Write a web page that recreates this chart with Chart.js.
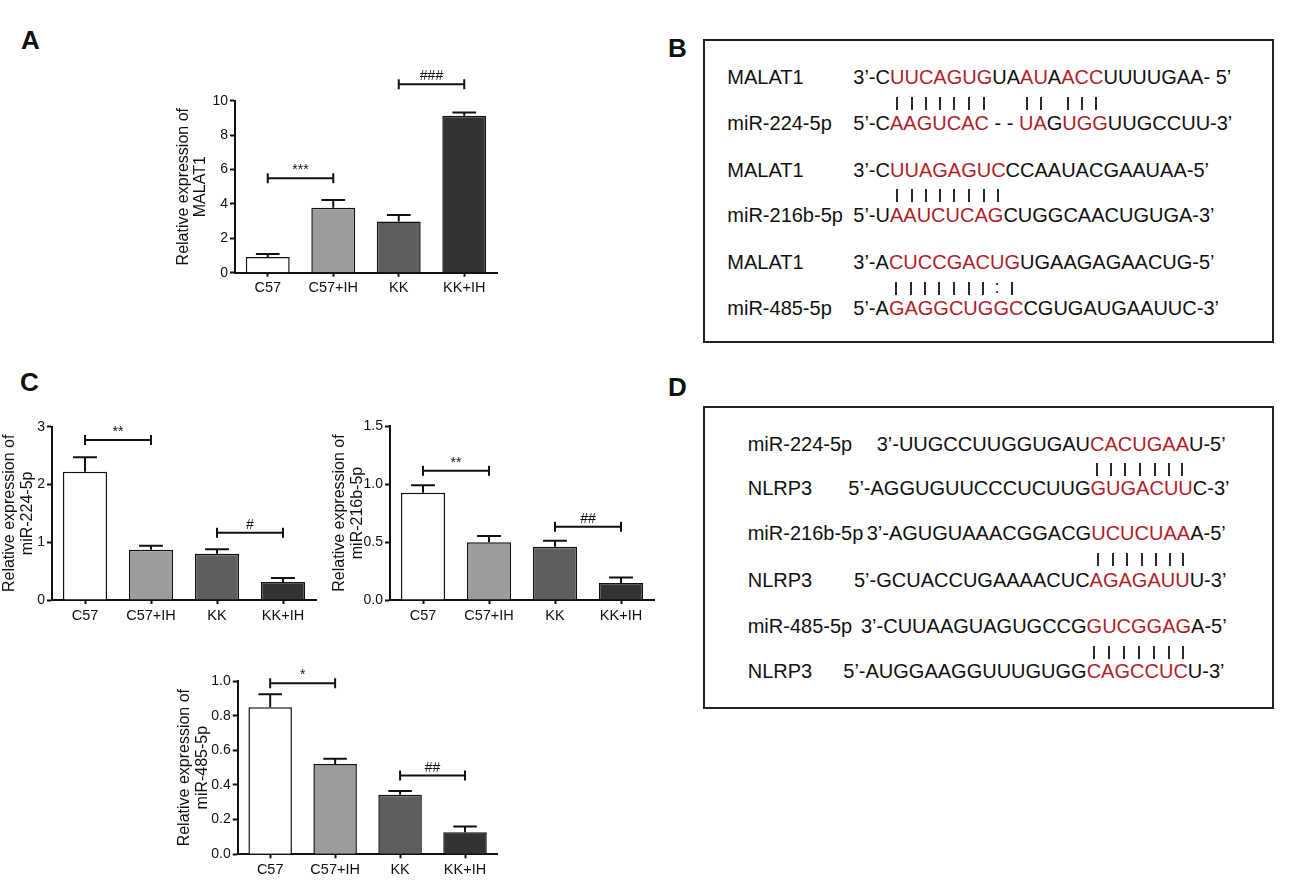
<!DOCTYPE html>
<html lang="en">
<head>
<meta charset="UTF-8">
<title>MALAT1 / miRNA expression and binding sites</title>
<script src="https://cdn.jsdelivr.net/npm/chart.js"></script>
<style>
    body {
        margin: 0;
        width: 1300px;
        height: 886px;
        position: relative;
        background: #fff;
        font-family: "Liberation Sans", Arial, sans-serif;
        color: #111;
        overflow: hidden;
    }
    canvas { position: absolute; }
    .panel-label {
        position: absolute;
        font-weight: bold;
        font-size: 26px;
        line-height: 26px;
    }
    .seq-box {
        position: absolute;
        border: 2px solid #222;
        box-sizing: border-box;
    }
    .txt {
        position: absolute;
        font-size: 20px;
        line-height: 20px;
        white-space: pre;
    }
    .red { color: #b01f2b; }
    .mark {
        position: absolute;
        width: 2px;
        height: 13px;
        background: #2a2a2a;
    }
    .colon {
        position: absolute;
        font-size: 18px;
        line-height: 13px;
        transform: translateX(-50%);
    }
</style>
</head>
<body>

<div class="panel-label" style="left:21px; top:27px;">A</div>
<div class="panel-label" style="left:668px; top:35px;">B</div>
<div class="panel-label" style="left:20px; top:369px;">C</div>
<div class="panel-label" style="left:668px; top:374px;">D</div>

<canvas id="chartA" width="360" height="250" style="left:150px; top:55px;"></canvas>
<canvas id="chartC1" width="330" height="232" style="left:0px; top:400px;"></canvas>
<canvas id="chartC2" width="340" height="232" style="left:330px; top:400px;"></canvas>
<canvas id="chartC3" width="350" height="231" style="left:160px; top:655px;"></canvas>

<div class="seq-box" id="boxB" style="left:703px; top:39px; width:571px; height:304px;"></div>
<div class="seq-box" id="boxD" style="left:703px; top:406px; width:571px; height:303px;"></div>

<script>
    // ---- bar chart data ----
    const groups = ['C57', 'C57+IH', 'KK', 'KK+IH'];
    const barColors = ['#ffffff', '#9c9c9c', '#5e5e5e', '#333333'];

    const malat1Mean = [0.92, 3.78, 2.97, 9.13];
    const malat1Err = [0.16, 0.44, 0.38, 0.19];
    const malat1Sig = [[0, 1, 5.49, '***'], [2, 3, 10.95, '###']];

    const mir224Mean = [2.22, 0.87, 0.80, 0.31];
    const mir224Err = [0.25, 0.07, 0.08, 0.07];
    const mir224Sig = [[0, 1, 2.77, '**'], [2, 3, 1.166, '#']];

    const mir216Mean = [0.925, 0.497, 0.46, 0.147];
    const mir216Err = [0.065, 0.055, 0.05, 0.046];
    const mir216Sig = [[0, 1, 1.115, '**'], [2, 3, 0.632, '##']];

    const mir485Mean = [0.848, 0.521, 0.344, 0.127];
    const mir485Err = [0.075, 0.031, 0.021, 0.033];
    const mir485Sig = [[0, 1, 0.987, '*'], [2, 3, 0.454, '##']];

    // ---- binding site text ----
    // [..] marks the paired (red) bases
    const labelsB = ['MALAT1', 'miR-224-5p', 'MALAT1', 'miR-216b-5p', 'MALAT1', 'miR-485-5p'];
    const seqsB = [
        '3’-C[UUCAGUG]UA[AU]A[ACC]UUUUGAA- 5’',
        '5’-C[AAGUCAC] - - [UA]G[UGG]UUGCCUU-3’',
        '3’-C[UUAGAGUC]CCAAUACGAAUAA-5’',
        '5’-U[AAUCUCAG]CUGGCAACUGUGA-3’',
        '3’-A[CUCCGACUG]UGAAGAGAACUG-5’',
        '5’-A[GAGGCUGGC]CGUGAUGAAUUC-3’'
    ];
    const pairsB = ['||||||||||||', '||||||||', '|||||||:|'];

    const labelsD = ['miR-224-5p', 'NLRP3', 'miR-216b-5p', 'NLRP3', 'miR-485-5p', 'NLRP3'];
    const seqsD = [
        '3’-UUGCCUUGGUGAU[CACUGAA]U-5’',
        '5’-AGGUGUUCCCUCUUG[GUGACUU]C-3’',
        '3’-AGUGUAAACGGACG[UCUCUAA]A-5’',
        '5’-GCUACCUGAAAACUC[AGAGAUU]U-3’',
        '3’-CUUAAGUAGUGCCG[GUCGGAG]A-5’',
        '5’-AUGGAAGGUUUGUGG[CAGCCUC]U-3’'
    ];
    const pairsD = ['|||||||', '|||||||', '|||||||'];

    const FONT = '"Liberation Sans", Arial, sans-serif';

    // error bars + significance brackets
    const annotatePlugin = {
        id: 'annotate',
        afterDatasetsDraw(chart, args, opts) {
            const ctx = chart.ctx;
            const meta = chart.getDatasetMeta(0);
            const xs = chart.scales.x;
            const ys = chart.scales.y;
            const data = chart.data.datasets[0].data;
            ctx.save();
            ctx.strokeStyle = '#111';
            ctx.lineWidth = 2;
            meta.data.forEach((bar, i) => {
                const base = ys.getPixelForValue(data[i]);
                const top = ys.getPixelForValue(data[i] + opts.err[i]);
                const half = bar.width * 0.27;
                ctx.beginPath();
                ctx.moveTo(bar.x, base);
                ctx.lineTo(bar.x, top);
                ctx.moveTo(bar.x - half, top);
                ctx.lineTo(bar.x + half, top);
                ctx.stroke();
            });
            ctx.fillStyle = '#111';
            ctx.font = '14px ' + FONT;
            ctx.textAlign = 'center';
            ctx.textBaseline = 'alphabetic';
            opts.sig.forEach(([a, b, v, label]) => {
                const x1 = xs.getPixelForValue(a);
                const x2 = xs.getPixelForValue(b);
                const y = ys.getPixelForValue(v);
                ctx.beginPath();
                ctx.moveTo(x1, y);
                ctx.lineTo(x2, y);
                ctx.moveTo(x1, y - 5);
                ctx.lineTo(x1, y + 5);
                ctx.moveTo(x2, y - 5);
                ctx.lineTo(x2, y + 5);
                ctx.stroke();
                ctx.fillText(label, (x1 + x2) / 2, y - 4);
            });
            ctx.restore();
        }
    };

    // box: canvas page rect, area: page coords of plot area, titleX: page x of first title line centre
    function makeBarChart(id, box, area, titleX, title, mean, err, sig, max, step, decimals) {
        const lh = 17.5;
        const scaleLeft = titleX - lh / 2;
        const padLeft = scaleLeft - box.left;
        const yWidth = area.left - scaleLeft;
        const xHeight = box.top + box.height - area.bottom;
        return new Chart(document.getElementById(id), {
            type: 'bar',
            data: {
                labels: groups,
                datasets: [{
                    data: mean,
                    backgroundColor: barColors,
                    borderColor: '#111',
                    borderWidth: 1.5,
                    barPercentage: 0.67,
                    categoryPercentage: 1
                }]
            },
            options: {
                responsive: false,
                animation: false,
                devicePixelRatio: 1,
                layout: {
                    padding: {
                        left: padLeft,
                        top: area.top - box.top,
                        right: box.left + box.width - area.right,
                        bottom: 0
                    }
                },
                plugins: {
                    legend: { display: false },
                    tooltip: { enabled: false },
                    annotate: { err: err, sig: sig }
                },
                scales: {
                    x: {
                        offset: true,
                        grid: { display: true, drawOnChartArea: false, offset: false, tickLength: 4, tickWidth: 2, color: '#111' },
                        border: { color: '#111', width: 2 },
                        ticks: { color: '#111', font: { family: FONT, size: 14.5 }, padding: 3, maxRotation: 0 },
                        afterFit: s => { s.height = xHeight; }
                    },
                    y: {
                        min: 0,
                        max: max,
                        grid: { display: true, drawOnChartArea: false, tickLength: 5, tickWidth: 2, color: '#111' },
                        border: { color: '#111', width: 2 },
                        ticks: {
                            stepSize: step,
                            color: '#111',
                            padding: 2,
                            font: { family: FONT, size: 14 },
                            callback: v => Number(v).toFixed(decimals)
                        },
                        title: {
                            display: true,
                            text: ['Relative expression of', title],
                            color: '#111',
                            padding: 0,
                            font: { family: FONT, size: 16, lineHeight: lh / 16 }
                        },
                        afterFit: s => { s.width = yWidth; }
                    }
                }
            },
            plugins: [annotatePlugin]
        });
    }

    makeBarChart('chartA', { left: 150, top: 55, width: 360, height: 250 },
        { left: 235, right: 497, top: 100.7, bottom: 272.7 }, 183.5, 'MALAT1',
        malat1Mean, malat1Err, malat1Sig, 10, 2, 0);

    makeBarChart('chartC1', { left: 0, top: 400, width: 330, height: 232 },
        { left: 52, right: 316, top: 426.7, bottom: 600 }, 10, 'miR-224-5p',
        mir224Mean, mir224Err, mir224Sig, 3, 1, 0);

    makeBarChart('chartC2', { left: 330, top: 400, width: 340, height: 232 },
        { left: 390, right: 654, top: 426, bottom: 600 }, 340, 'miR-216b-5p',
        mir216Mean, mir216Err, mir216Sig, 1.5, 0.5, 1);

    makeBarChart('chartC3', { left: 160, top: 655, width: 350, height: 231 },
        { left: 237.7, right: 497.5, top: 681, bottom: 854.3 }, 185, 'miR-485-5p',
        mir485Mean, mir485Err, mir485Sig, 1.0, 0.2, 1);

    // ---- sequence panels ----
    function addLine(x, baseline, text) {
        const div = document.createElement('div');
        div.className = 'txt';
        div.style.left = x + 'px';
        div.style.top = (baseline - 17) + 'px';
        const redChars = [];
        text.split(/(\[[^\]]*\])/).forEach(part => {
            if (!part) return;
            if (part[0] === '[') {
                for (const ch of part.slice(1, -1)) {
                    const s = document.createElement('span');
                    s.className = 'red';
                    s.textContent = ch;
                    div.appendChild(s);
                    redChars.push(s);
                }
            } else {
                div.appendChild(document.createTextNode(part));
            }
        });
        document.body.appendChild(div);
        return redChars;
    }

    function addLabel(x, baseline, text) {
        const div = document.createElement('div');
        div.className = 'txt';
        div.style.left = x + 'px';
        div.style.top = (baseline - 17) + 'px';
        div.textContent = text;
        document.body.appendChild(div);
    }

    function addMarks(chars, marks, baseline) {
        chars.forEach((s, i) => {
            const r = s.getBoundingClientRect();
            const cx = Math.round((r.left + r.right) / 2);
            const m = marks[i] || '|';
            const el = document.createElement('div');
            if (m === ':') {
                el.className = 'colon';
                el.textContent = ':';
                el.style.left = cx + 'px';
                el.style.top = Math.round(baseline + 12) + 'px';
            } else {
                el.className = 'mark';
                el.style.left = (cx - 1) + 'px';
                el.style.top = Math.round(baseline + 12.5) + 'px';
            }
            document.body.appendChild(el);
        });
    }

    function drawPanel(labels, seqs, pairs, labelX, seqX, baselines) {
        for (let p = 0; p < 3; p++) {
            const i = p * 2;
            addLabel(labelX, baselines[i], labels[i]);
            addLabel(labelX, baselines[i + 1], labels[i + 1]);
            const upper = addLine(seqX[i], baselines[i], seqs[i]);
            addLine(seqX[i + 1], baselines[i + 1], seqs[i + 1]);
            addMarks(upper, pairs[p], baselines[i]);
        }
    }

    drawPanel(labelsB, seqsB, pairsB, 727.3,
        [853.3, 853.3, 853.3, 853.3, 853.3, 853.3],
        [84, 130, 176.7, 222.3, 269, 315]);

    drawPanel(labelsD, seqsD, pairsD, 747.7,
        [876.7, 848.3, 866.7, 854, 861, 843.3],
        [450.7, 495, 540, 586.7, 633.3, 678.3]);
</script>
</body>
</html>
